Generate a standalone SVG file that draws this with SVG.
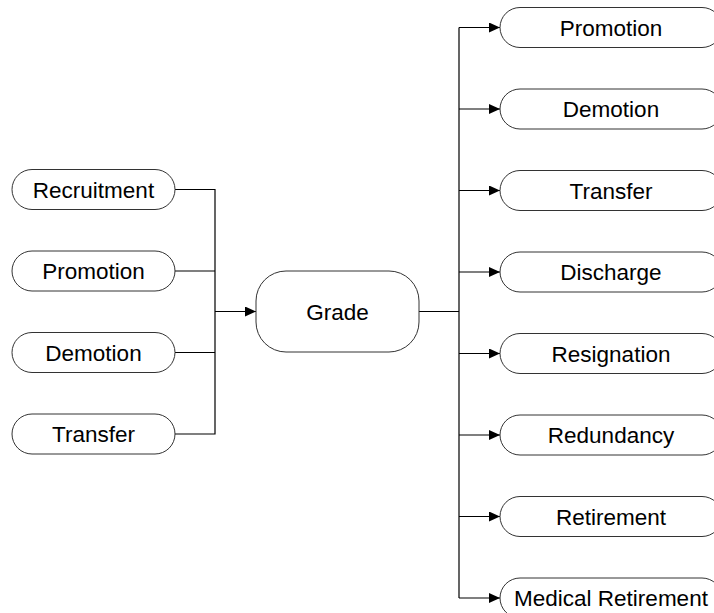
<svg xmlns="http://www.w3.org/2000/svg" width="714" height="613" viewBox="0 0 714 613">
<defs>
<style>
.box{fill:#fff;stroke:#333;stroke-width:1}
.lbl{font-family:"Liberation Sans",Arial,sans-serif;font-size:22.5px;fill:#000;text-anchor:middle}
.ln{fill:none;stroke:#000;stroke-width:1.2}
</style>
<marker id="ah" markerWidth="11" markerHeight="10" refX="11" refY="5" orient="auto" markerUnits="userSpaceOnUse">
<path d="M0,0 L11,5 L0,10 Z" fill="#000"/>
</marker>
</defs>
<rect width="714" height="613" fill="#fff"/>
<g id="connectors">
<path class="ln" d="M175,189.5 H215 V434 H175 M175,271 H215 M175,352.5 H215"/>
<path class="ln" d="M215,311.5 H256" marker-end="url(#ah)"/>
<path class="ln" d="M419,311.5 H459 M459,27.5 V598"/>
<path class="ln" d="M459,27.5 H500" marker-end="url(#ah)"/>
<path class="ln" d="M459,109 H500" marker-end="url(#ah)"/>
<path class="ln" d="M459,190.5 H500" marker-end="url(#ah)"/>
<path class="ln" d="M459,272 H500" marker-end="url(#ah)"/>
<path class="ln" d="M459,353.5 H500" marker-end="url(#ah)"/>
<path class="ln" d="M459,435 H500" marker-end="url(#ah)"/>
<path class="ln" d="M459,516.5 H500" marker-end="url(#ah)"/>
<path class="ln" d="M459,598 H500" marker-end="url(#ah)"/>
</g>
<g id="in-recruitment"><rect class="box" x="12" y="169.5" width="163" height="40" rx="20"/><text class="lbl" x="93.5" y="197.5">Recruitment</text></g>
<g id="in-promotion"><rect class="box" x="12" y="251" width="163" height="40" rx="20"/><text class="lbl" x="93.5" y="279">Promotion</text></g>
<g id="in-demotion"><rect class="box" x="12" y="332.5" width="163" height="40" rx="20"/><text class="lbl" x="93.5" y="360.5">Demotion</text></g>
<g id="in-transfer"><rect class="box" x="12" y="414" width="163" height="40" rx="20"/><text class="lbl" x="93.5" y="442">Transfer</text></g>
<g id="grade"><rect class="box" x="256" y="271" width="163" height="81" rx="30"/><text class="lbl" x="337.5" y="319.5">Grade</text></g>
<g id="out-promotion"><rect class="box" x="500" y="7.5" width="222" height="40" rx="20"/><text class="lbl" x="611" y="35.5">Promotion</text></g>
<g id="out-demotion"><rect class="box" x="500" y="89" width="222" height="40" rx="20"/><text class="lbl" x="611" y="117">Demotion</text></g>
<g id="out-transfer"><rect class="box" x="500" y="170.5" width="222" height="40" rx="20"/><text class="lbl" x="611" y="198.5">Transfer</text></g>
<g id="out-discharge"><rect class="box" x="500" y="252" width="222" height="40" rx="20"/><text class="lbl" x="611" y="280">Discharge</text></g>
<g id="out-resignation"><rect class="box" x="500" y="333.5" width="222" height="40" rx="20"/><text class="lbl" x="611" y="361.5">Resignation</text></g>
<g id="out-redundancy"><rect class="box" x="500" y="415" width="222" height="40" rx="20"/><text class="lbl" x="611" y="443">Redundancy</text></g>
<g id="out-retirement"><rect class="box" x="500" y="496.5" width="222" height="40" rx="20"/><text class="lbl" x="611" y="524.5">Retirement</text></g>
<g id="out-medical"><rect class="box" x="500" y="578" width="222" height="40" rx="20"/><text class="lbl" x="611" y="606">Medical Retirement</text></g>
</svg>
